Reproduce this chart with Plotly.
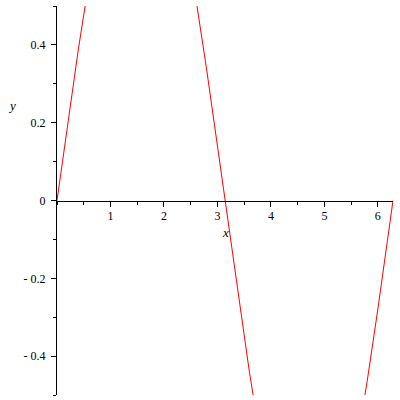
import plotly.graph_objects as go

# curve samples (y = sin x on [0, 2*pi])
x_vals = [0.0, 0.2, 0.4, 0.6, 0.8, 1.0, 1.2, 1.4, 1.6, 1.8, 2.0, 2.2, 2.4, 2.6,
          2.8, 3.0, 3.2, 3.4, 3.6, 3.8, 4.0, 4.2, 4.4, 4.6, 4.8, 5.0, 5.2, 5.4,
          5.6, 5.8, 6.0, 6.2, 6.283]
y_vals = [0.0, 0.199, 0.389, 0.565, 0.717, 0.841, 0.932, 0.985, 1.0, 0.974,
          0.909, 0.808, 0.675, 0.516, 0.335, 0.141, -0.058, -0.256, -0.443,
          -0.612, -0.757, -0.872, -0.952, -0.994, -0.996, -0.959, -0.883,
          -0.773, -0.631, -0.465, -0.279, -0.083, 0.0]

x_ticks = [1, 2, 3, 4, 5, 6]
x_tick_text = ["1", "2", "3", "4", "5", "6"]
y_ticks = [0.4, 0.2, 0.0, -0.2, -0.4]
y_tick_text = ["0.4", "0.2", "0", "- 0.2", "- 0.4"]

x_range = [0, 6.283]
y_range = [-0.5, 0.5]

font_family = "Liberation Serif, Times New Roman, serif"

fig = go.Figure()
fig.add_trace(go.Scatter(x=x_vals, y=y_vals, mode="lines",
                         line=dict(color="#ff0000", width=1),
                         hoverinfo="skip", showlegend=False))

fig.update_layout(
    template="none",
    width=400, height=400,
    margin=dict(l=57, r=7, t=6, b=5, autoexpand=False),
    paper_bgcolor="white", plot_bgcolor="white",
    font=dict(family=font_family, size=12, color="black"),
    xaxis=dict(range=x_range, anchor="free", position=0.5, automargin=False,
               showline=True, linecolor="black", linewidth=1,
               showgrid=False, zeroline=False,
               tickmode="array", tickvals=x_ticks, ticktext=x_tick_text,
               ticks="outside", ticklen=5, tickcolor="black", tickwidth=1,
               minor=dict(dtick=0.5, tick0=0, ticks="outside", ticklen=3,
                          tickcolor="black", showgrid=False),
               ticklabelstandoff=-1,
               tickfont=dict(family=font_family, size=12, color="black")),
    yaxis=dict(range=y_range, automargin=False,
               showline=True, linecolor="black", linewidth=1,
               showgrid=False, zeroline=False,
               tickmode="array", tickvals=y_ticks, ticktext=y_tick_text,
               ticks="outside", ticklen=5, tickcolor="black", tickwidth=1,
               minor=dict(dtick=0.1, tick0=0, ticks="outside", ticklen=3,
                          tickcolor="black", showgrid=False),
               ticklabelstandoff=3,
               tickfont=dict(family=font_family, size=12, color="black")),
    annotations=[
        dict(text="<i>y</i>", x=-0.134, y=0.7455, xref="paper", yref="paper",
             xanchor="center", yanchor="middle", showarrow=False,
             font=dict(family=font_family, size=13, color="black")),
        dict(text="<i>x</i>", x=0.5, y=0.419, xref="paper", yref="paper",
             xanchor="center", yanchor="middle", showarrow=False,
             font=dict(family=font_family, size=13, color="black")),
    ],
)

fig.write_html("out.html", config={"displayModeBar": False},
               post_script="document.body.style.margin='0';document.body.style.overflow='hidden';")
